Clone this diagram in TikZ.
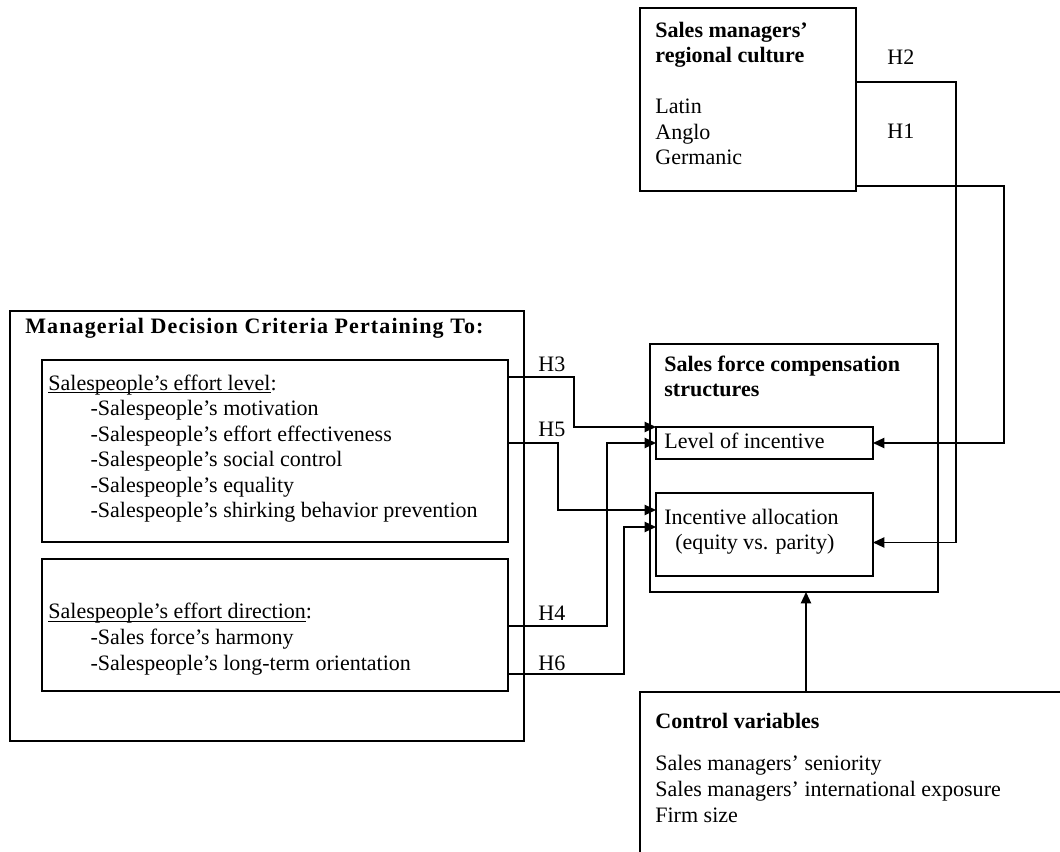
\documentclass[tikz,border=0pt]{standalone}
\usepackage{fontspec}
\setmainfont{Liberation Serif}
\usetikzlibrary{arrows.meta,calc,fit}
\newcommand{\critindent}{\hspace*{23pt}}

\begin{document}
\begin{tikzpicture}[x=0.545pt, y=-0.545pt,
    framebox/.style={rectangle, draw, line width=0.8pt, inner sep=0pt, outer sep=0pt},
    boxtext/.style={align=left, anchor=base west, inner sep=0pt,
                    font=\fontsize{12}{13.95}\selectfont},
    boldtext/.style={boxtext, font=\fontsize{12}{13.95}\selectfont\bfseries},
    hyplabel/.style={anchor=base west, inner sep=0pt, font=\fontsize{12}{13.95}\selectfont},
    hyparrow/.style={-{Triangle[length=6.2pt, width=5.6pt]}, line width=0.8pt}
  ]
  \useasboundingbox (0,0) rectangle (1060,852);
  \clip (0,0) rectangle (1060,852);

  % boxes
  \node[framebox, fit={(10,311) (524,741)}] (crit) {};
  \node[framebox, fit={(42,360) (508,542)}] (effort) {};
  \node[framebox, fit={(42,559) (508,691)}] (direct) {};
  \node[framebox, fit={(640,8) (856,191)}] (cult) {};
  \node[framebox, fit={(650,344) (938,592)}] (sales) {};
  \node[framebox, fit={(656,427) (873,459)}] (lvl) {};
  \node[framebox, fit={(656,493) (873,576)}] (alloc) {};
  \node[framebox, fit={(640,692) (1075,870)}] (ctrl) {};

  % texts (multi-line nodes sit on their last baseline)
  \node[boldtext] (crittitle) at (25,334) {\addfontfeature{LetterSpace=5}Managerial Decision Criteria Pertaining To:};
  \node[boxtext] (efforttext) at (48,518) {\underline{\smash{Salespeople’s effort level}}:\\
    \critindent-Salespeople’s motivation\\
    \critindent-Salespeople’s effort effectiveness\\
    \critindent-Salespeople’s social control\\
    \critindent-Salespeople’s equality\\
    \critindent-Salespeople’s shirking behavior prevention};
  \node[boxtext] (directtext) at (48,670) {\underline{\smash{Salespeople’s effort direction}}:\\
    \critindent-Sales force’s harmony\\
    \critindent-Salespeople’s long-term orientation};
  \node[boxtext] (culttext) at (655,165) {\textbf{Sales managers’}\\
    \textbf{regional culture}\\[13.95pt]
    Latin\\Anglo\\Germanic};
  \node[boldtext] (salestitle) at (664,397) {Sales force compensation\\structures};
  \node[boxtext] (lvltext) at (664,449) {Level of incentive};
  \node[boxtext] (alloctext) at (664,550) {Incentive allocation\\\hspace*{6pt}(equity vs. parity)};
  \node[boxtext] (ctrltext) at (655,822) {\textbf{Control variables}\\[9pt]
    Sales managers’ seniority\\
    Sales managers’ international exposure\\
    Firm size};

  % hypotheses
  \node[hyplabel] (h3) at (538,372) {H3};
  \node[hyplabel] (h5) at (538,437) {H5};
  \node[hyplabel] (h4) at (538,620) {H4};
  \node[hyplabel] (h6) at (538,670) {H6};
  \node[hyplabel] (h2) at (887,65) {H2};
  \node[hyplabel] (h1) at (887,139) {H1};

  \draw[hyparrow] ($(effort.north east)+(0,17)$) -| ($(lvl.north west)+(-82,0)$) -- (lvl.north west);
  \draw[hyparrow] (effort.east |- lvl.west) -| ($(alloc.north west)+(-98,17)$) -- ($(alloc.north west)+(0,17)$);
  \draw[hyparrow] ($(direct.north east)+(0,67)$) -| ($(lvl.west)+(-49,0)$) -- (lvl.west);
  \draw[hyparrow] ($(direct.north east)+(0,115)$) -| ($(alloc.north west)+(-32,34)$) -- ($(alloc.north west)+(0,34)$);
  \draw[hyparrow] ($(cult.north east)+(0,74)$) -| ($(alloc.east)+(83,8)$) -- ($(alloc.east)+(0,8)$);
  \draw[hyparrow] ($(cult.north east)+(0,178)$) -| ($(lvl.east)+(131,0)$) -- (lvl.east);
  \draw[hyparrow] ($(ctrl.north west)+(166,0)$) -- ($(sales.south west)+(156,0)$);
\end{tikzpicture}
\end{document}
